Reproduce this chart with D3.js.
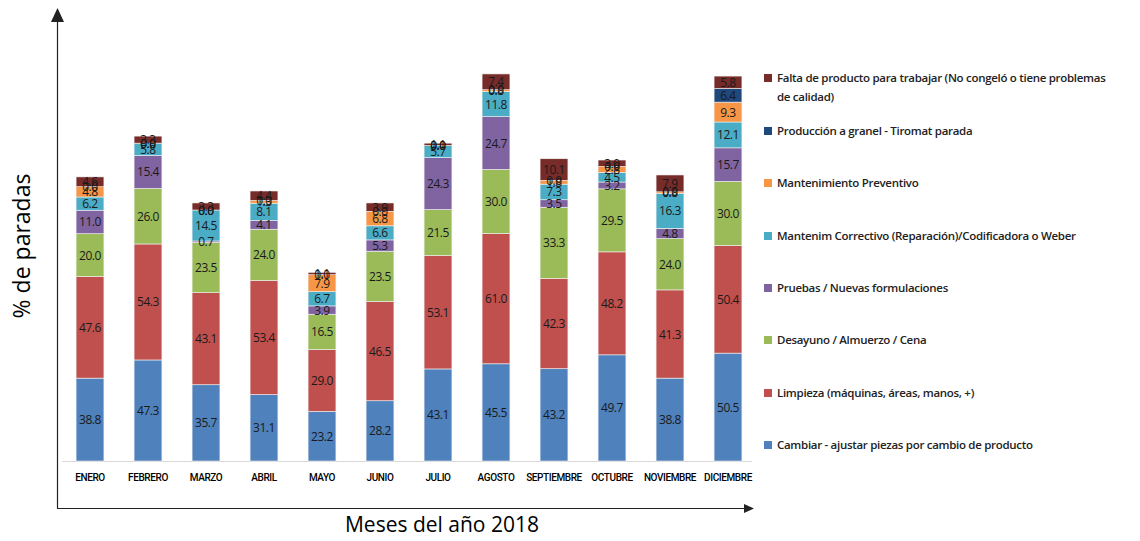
<!DOCTYPE html>
<html>
<head>
<meta charset="utf-8">
<script src="https://cdn.jsdelivr.net/npm/d3@7/dist/d3.min.js"></script>
<style>
  body { margin: 0; background: #fff; }
  svg { display: block; }
</style>
</head>
<body>
<div id="chart"></div>
<script>
const months = ['ENERO', 'FEBRERO', 'MARZO', 'ABRIL', 'MAYO', 'JUNIO', 'JULIO', 'AGOSTO',
  'SEPTIEMBRE', 'OCTUBRE', 'NOVIEMBRE', 'DICIEMBRE'];

const seriesNames = [
  'Cambiar - ajustar piezas por cambio de producto',
  'Limpieza (máquinas, áreas, manos, +)',
  'Desayuno / Almuerzo / Cena',
  'Pruebas / Nuevas formulaciones',
  'Mantenim Correctivo (Reparación)/Codificadora o Weber',
  'Mantenimiento Preventivo',
  'Producción a granel  - Tiromat parada',
  'Falta de producto para trabajar (No congeló o tiene problemas de calidad)'
];

const cambiar     = [38.8, 47.3, 35.7, 31.1, 23.2, 28.2, 43.1, 45.5, 43.2, 49.7, 38.8, 50.5];
const limpieza    = [47.6, 54.3, 43.1, 53.4, 29.0, 46.5, 53.1, 61.0, 42.3, 48.2, 41.3, 50.4];
const desayuno    = [20.0, 26.0, 23.5, 24.0, 16.5, 23.5, 21.5, 30.0, 33.3, 29.5, 24.0, 30.0];
const pruebas     = [11.0, 15.4, 0.7, 4.1, 3.9, 5.3, 24.3, 24.7, 3.5, 3.2, 4.8, 15.7];
const correctivo  = [6.2, 5.8, 14.5, 8.1, 6.7, 6.6, 5.7, 11.8, 7.3, 4.5, 16.3, 12.1];
const preventivo  = [4.8, 0.0, 0.0, 1.3, 7.9, 6.8, 0.0, 0.8, 1.8, 2.8, 0.8, 9.3];
const granel      = [0.0, 0.0, 0.0, 0.0, 0.0, 0.0, 0.0, 0.0, 0.0, 0.0, 0.0, 6.4];
const falta       = [4.6, 3.3, 3.3, 4.4, 1.1, 3.9, 1.1, 7.4, 10.1, 3.0, 7.9, 5.8];

const colors = ['#4F81BD', '#C0504D', '#9BBB59', '#8064A2', '#4BACC6', '#F79646', '#1F497D', '#772C2A'];

const allSeries = [cambiar, limpieza, desayuno, pruebas, correctivo, preventivo, granel, falta];

const width = 1140;
const height = 541;
const baseY = 461;

const table = months.map(function(m, i) {
  const row = {month: m};
  seriesNames.forEach(function(s, k) { row[s] = allSeries[k][i]; });
  return row;
});

const stacked = d3.stack().keys(seriesNames)(table);

const xScale = d3.scaleBand().domain(months).range([61, 757]).paddingInner(0.52).paddingOuter(0.26);
const yScale = d3.scaleLinear().domain([0, 180]).range([baseY, baseY - 384.5]);

const svg = d3.select('#chart').append('svg').attr('width', width).attr('height', height);

// baseline of plot area
svg.append('line').attr('x1', 62).attr('x2', 752).attr('y1', baseY + 0.5).attr('y2', baseY + 0.5)
  .attr('stroke', '#d9d9d9').attr('stroke-width', 1);

const g = svg.append('g');
const layer = g.selectAll('g.layer').data(stacked).enter().append('g').attr('class', 'layer')
  .attr('fill', function(d, i) { return colors[i]; });

layer.selectAll('rect').data(function(d) { return d; }).enter().append('rect')
  .attr('x', function(d) { return xScale(d.data.month); })
  .attr('y', function(d) { return yScale(d[1]); })
  .attr('width', xScale.bandwidth())
  .attr('height', function(d) { return yScale(d[0]) - yScale(d[1]); })
  .attr('stroke', '#f2f2f2').attr('stroke-width', 0.6);

const labels = svg.append('g');
stacked.forEach(function(s) {
  labels.selectAll(null).data(s).enter().append('text')
    .attr('x', function(d) { return xScale(d.data.month) + xScale.bandwidth() / 2; })
    .attr('y', function(d) { return (yScale(d[0]) + yScale(d[1])) / 2 + 4.5; })
    .attr('text-anchor', 'middle')
    .attr('font-family', 'Open Sans, sans-serif')
    .attr('font-size', 12).attr('letter-spacing', -0.4)
    .attr('fill', '#1a1a1a')
    .text(function(d) { return (d[1] - d[0]).toFixed(1); });
});

// month labels
svg.append('g').selectAll('text').data(months).enter().append('text')
  .attr('x', function(d) { return xScale(d) + xScale.bandwidth() / 2; })
  .attr('y', 481)
  .attr('text-anchor', 'middle')
  .attr('font-family', 'Roboto, sans-serif')
  .attr('font-size', 10).attr('font-weight', 500).attr('letter-spacing', -0.4)
  .attr('fill', '#000')
  .text(function(d) { return d; });

// axes with arrows
const axisColor = '#222';
svg.append('line').attr('x1', 57.5).attr('x2', 57.5).attr('y1', 20).attr('y2', 508)
  .attr('stroke', axisColor).attr('stroke-width', 1.2);
svg.append('line').attr('x1', 57).attr('x2', 746).attr('y1', 508.5).attr('y2', 508.5)
  .attr('stroke', axisColor).attr('stroke-width', 1.2);
svg.append('path').attr('d', 'M57.5,8 L51,22 L64,22 Z').attr('fill', axisColor);
svg.append('path').attr('d', 'M754,508.5 L744,504 L744,513 Z').attr('fill', axisColor);

svg.append('text')
  .attr('transform', 'translate(30,246) rotate(-90)')
  .attr('text-anchor', 'middle')
  .attr('font-family', 'Open Sans, sans-serif').attr('font-size', 23)
  .attr('fill', '#000')
  .text('% de paradas');

svg.append('text')
  .attr('x', 442).attr('y', 532)
  .attr('text-anchor', 'middle')
  .attr('font-family', 'Open Sans, sans-serif').attr('font-size', 21)
  .attr('fill', '#000')
  .text('Meses del año 2018');

// legend (top entry first)
const legendY = [82, 135, 187, 240, 292, 344, 397, 449];
const legendOrder = seriesNames.map(function(s, i) { return i; }).reverse();
const legend = svg.append('g');
legendOrder.forEach(function(k, j) {
  legend.append('rect').attr('x', 764).attr('y', legendY[j] - 8).attr('width', 8).attr('height', 8)
    .attr('fill', colors[k]);
  const t = legend.append('text').attr('x', 777).attr('y', legendY[j])
    .attr('font-family', 'Open Sans, sans-serif').attr('font-size', 11.5).attr('font-weight', 600)
    .attr('letter-spacing', -0.3)
    .attr('fill', '#222');
  if (k === 7) {
    t.append('tspan').attr('x', 777).text('Falta de producto para trabajar (No congeló o tiene problemas');
    t.append('tspan').attr('x', 777).attr('dy', 19).text('de calidad)');
  } else {
    t.text(seriesNames[k]);
  }
});
</script>
</body>
</html>
